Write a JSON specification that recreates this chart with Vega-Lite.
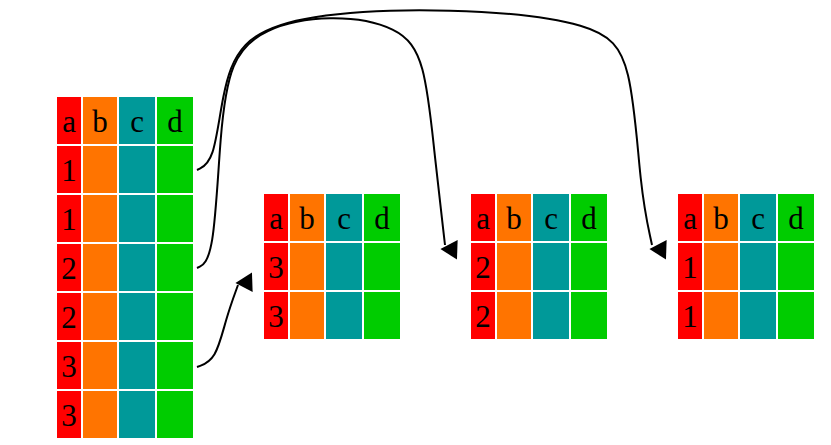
{
  "$schema": "https://vega.github.io/schema/vega-lite/v6.json",
  "width": 831,
  "height": 445,
  "autosize": "none",
  "padding": 0,
  "background": "white",
  "config": {"view": {"stroke": null}},
  "datasets": {
    "tables": [
      {"t": 0, "r": 0, "a": "a", "b": "b", "c": "c", "d": "d"},
      {"t": 0, "r": 1, "a": "1", "b": "", "c": "", "d": ""},
      {"t": 0, "r": 2, "a": "1", "b": "", "c": "", "d": ""},
      {"t": 0, "r": 3, "a": "2", "b": "", "c": "", "d": ""},
      {"t": 0, "r": 4, "a": "2", "b": "", "c": "", "d": ""},
      {"t": 0, "r": 5, "a": "3", "b": "", "c": "", "d": ""},
      {"t": 0, "r": 6, "a": "3", "b": "", "c": "", "d": ""},
      {"t": 1, "r": 0, "a": "a", "b": "b", "c": "c", "d": "d"},
      {"t": 1, "r": 1, "a": "3", "b": "", "c": "", "d": ""},
      {"t": 1, "r": 2, "a": "3", "b": "", "c": "", "d": ""},
      {"t": 2, "r": 0, "a": "a", "b": "b", "c": "c", "d": "d"},
      {"t": 2, "r": 1, "a": "2", "b": "", "c": "", "d": ""},
      {"t": 2, "r": 2, "a": "2", "b": "", "c": "", "d": ""},
      {"t": 3, "r": 0, "a": "a", "b": "b", "c": "c", "d": "d"},
      {"t": 3, "r": 1, "a": "1", "b": "", "c": "", "d": ""},
      {"t": 3, "r": 2, "a": "1", "b": "", "c": "", "d": ""}
    ],
    "paths": [
      {"p": 1, "o": 0, "x": 197, "y": 170}, {"p": 1, "o": 1, "x": 214, "y": 162},
      {"p": 1, "o": 2, "x": 222, "y": 95}, {"p": 1, "o": 3, "x": 238, "y": 40},
      {"p": 1, "o": 4, "x": 300, "y": 14}, {"p": 1, "o": 5, "x": 450, "y": 7},
      {"p": 1, "o": 6, "x": 600, "y": 22}, {"p": 1, "o": 7, "x": 632, "y": 60},
      {"p": 1, "o": 8, "x": 640, "y": 190}, {"p": 1, "o": 9, "x": 652, "y": 245},
      {"p": 2, "o": 0, "x": 197, "y": 268}, {"p": 2, "o": 1, "x": 214, "y": 260},
      {"p": 2, "o": 2, "x": 220, "y": 130}, {"p": 2, "o": 3, "x": 230, "y": 60},
      {"p": 2, "o": 4, "x": 262, "y": 28}, {"p": 2, "o": 5, "x": 330, "y": 14},
      {"p": 2, "o": 6, "x": 400, "y": 26}, {"p": 2, "o": 7, "x": 425, "y": 60},
      {"p": 2, "o": 8, "x": 434, "y": 150}, {"p": 2, "o": 9, "x": 445, "y": 245},
      {"p": 3, "o": 0, "x": 197, "y": 367}, {"p": 3, "o": 1, "x": 216, "y": 360},
      {"p": 3, "o": 2, "x": 226, "y": 318}, {"p": 3, "o": 3, "x": 238, "y": 285}
    ],
    "heads": [
      {"x": 453, "y": 252, "a": -28, "s": "triangle-down"},
      {"x": 662, "y": 252, "a": -28, "s": "triangle-down"},
      {"x": 248, "y": 280, "a": 28, "s": "triangle-up"}
    ]
  },
  "layer": [
    {
      "data": {"name": "tables"},
      "transform": [
        {"fold": ["a", "b", "c", "d"], "as": ["key", "label"]},
        {"calculate": "indexof('abcd', datum.key)", "as": "ci"},
        {"calculate": "[57,264,471,678][datum.t] + [0,26,62,100][datum.ci]", "as": "x"},
        {"calculate": "datum.x + [24,34,36,36][datum.ci]", "as": "x2"},
        {"calculate": "(datum.t == 0 ? 97 : 194) + datum.r * 49", "as": "y"},
        {"calculate": "datum.y + 47", "as": "y2"},
        {"calculate": "(datum.x + datum.x2) / 2", "as": "xm"},
        {"calculate": "(datum.y + datum.y2) / 2 + 2", "as": "ym"}
      ],
      "layer": [
        {
          "mark": {"type": "rect"},
          "encoding": {
            "x": {"field": "x", "type": "quantitative", "scale": {"domain": [0, 831], "nice": false, "zero": false}, "axis": null},
            "x2": {"field": "x2"},
            "y": {"field": "y", "type": "quantitative", "scale": {"domain": [0, 445], "nice": false, "zero": false, "reverse": true}, "axis": null},
            "y2": {"field": "y2"},
            "color": {"field": "key", "type": "nominal", "legend": null,
              "scale": {"domain": ["a", "b", "c", "d"], "range": ["#FF0000", "#FF7400", "#009999", "#00CC00"]}}
          }
        },
        {
          "mark": {"type": "text", "font": "Liberation Serif", "fontSize": 31, "baseline": "middle", "align": "center", "color": "black"},
          "encoding": {
            "x": {"field": "xm", "type": "quantitative"},
            "y": {"field": "ym", "type": "quantitative"},
            "text": {"field": "label"}
          }
        }
      ]
    },
    {
      "data": {"name": "paths"},
      "mark": {"type": "line", "interpolate": "basis", "color": "black", "strokeWidth": 2},
      "encoding": {
        "x": {"field": "x", "type": "quantitative"},
        "y": {"field": "y", "type": "quantitative"},
        "detail": {"field": "p"},
        "order": {"field": "o"}
      }
    },
    {
      "data": {"name": "heads"},
      "mark": {"type": "point", "filled": true, "color": "black", "opacity": 1, "size": 380},
      "encoding": {
        "x": {"field": "x", "type": "quantitative"},
        "y": {"field": "y", "type": "quantitative"},
        "angle": {"field": "a", "type": "quantitative", "scale": null},
        "shape": {"field": "s", "type": "nominal", "scale": null}
      }
    }
  ]
}
